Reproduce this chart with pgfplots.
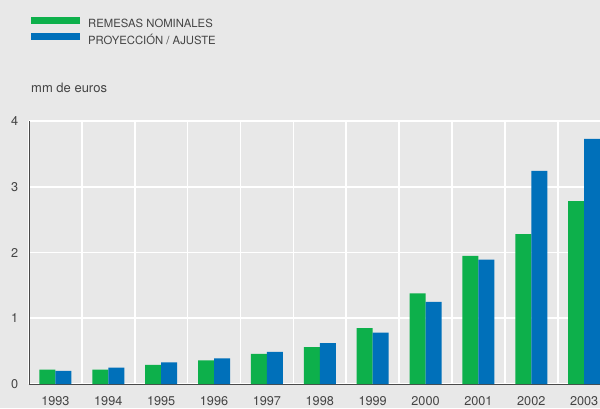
\documentclass[border=0pt]{standalone}
\usepackage{fontspec}
\setmainfont{TeX Gyre Heros}
\usepackage{pgfplots}
\pgfplotsset{compat=1.18}
\definecolor{bg}{HTML}{E8E8E8}
\definecolor{cgreen}{HTML}{0DB04B}
\definecolor{cblue}{HTML}{0070BA}
\definecolor{txt}{HTML}{444444}
\definecolor{axl}{HTML}{4A4A4A}
\begin{document}
\begin{tikzpicture}
\path[use as bounding box] (0pt,0pt) rectangle (600pt,408pt);
\clip (0pt,0pt) rectangle (600pt,408pt);
\fill[bg] (0pt,0pt) rectangle (600pt,408pt);
\node[anchor=base west, inner sep=0pt, text=txt, font=\fontsize{13}{15}\selectfont] at (31pt,316pt) {mm de euros};
\begin{axis}[
  at={(29pt,24pt)}, anchor=south west,
  scale only axis, width=571pt, height=263pt,
  xmin=-0.5, xmax=10.30, ymin=0, ymax=4,
  ybar=0pt, bar width=0.303,
  axis x line*=bottom, axis y line*=left,
  axis line style={axl, line width=0.9pt, -},
  xtick={0,...,10},
  xticklabels={1993,1994,1995,1996,1997,1998,1999,2000,2001,2002,2003},
  minor xtick={-0.5,0.5,...,9.5},
  ytick={0,1,2,3,4},
  xminorgrids, ymajorgrids,
  major grid style={white, line width=1.6pt},
  minor grid style={white, line width=1.6pt},
  major tick length=0pt, minor tick length=0pt,
  tick style={draw=none},
  /pgf/number format/assume math mode=true,
  ticklabel style={text=txt, font=\fontsize{12.7}{14}\selectfont, inner sep=0pt},
  xticklabel style={anchor=north, yshift=-12.5pt},
  yticklabel style={anchor=east, xshift=-10.5pt},
  legend style={at={(axis description cs:0.0035,1.398)}, anchor=north west,
    draw=none, fill=none, inner sep=0pt, row sep=3.3pt, column sep=8pt,
    font=\fontsize{11.3}{13}\selectfont, text=txt,
    nodes={inner sep=0pt, text height=9pt, text depth=2pt}},
  legend cell align=left,
  legend image code/.code={\fill[#1] (0pt,0.6pt) rectangle (49pt,7.6pt);},
]
\addplot[fill=cgreen, draw=none] coordinates {(0,0.22) (1,0.22) (2,0.29) (3,0.36) (4,0.46) (5,0.56) (6,0.85) (7,1.38) (8,1.95) (9,2.28) (10,2.78)};
\addplot[fill=cblue, draw=none] coordinates {(0,0.20) (1,0.25) (2,0.33) (3,0.39) (4,0.49) (5,0.62) (6,0.78) (7,1.25) (8,1.89) (9,3.24) (10,3.73)};
\legend{REMESAS NOMINALES, PROYECCIÓN / AJUSTE}
\end{axis}
\end{tikzpicture}
\end{document}
